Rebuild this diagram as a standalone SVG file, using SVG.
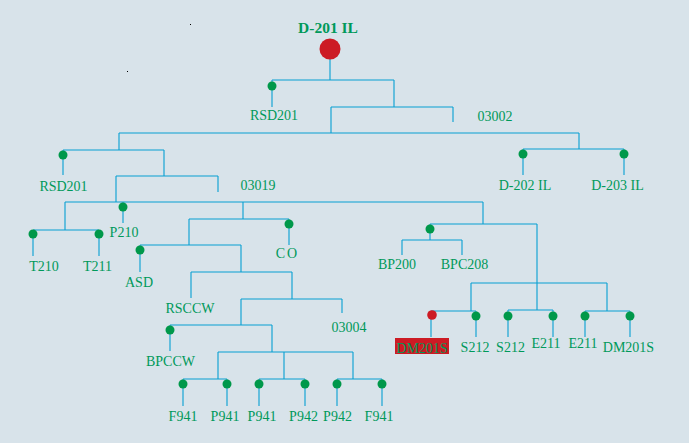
<svg xmlns="http://www.w3.org/2000/svg" width="689" height="443" viewBox="0 0 689 443">
<style>
.ln{fill:none;stroke:#07a0d2;stroke-width:1.1}
.dot{fill:#00984a}
.lb{font-family:"Liberation Serif",serif;font-size:14px;fill:#00995a;text-anchor:middle}
.title{font-family:"Liberation Serif",serif;font-size:15.5px;font-weight:bold;fill:#00995a;text-anchor:middle}
</style>
<rect width="689" height="443" fill="#d8e3ea"/>
<rect x="190" y="24" width="1" height="1" fill="#000"/>
<rect x="127" y="71" width="1" height="1" fill="#000"/>
<g id="connectors" class="ln">
<path d="M330 59V80M272 80H394M272 80V107M394 80V107M331 107H453M453 107V122M331 107V133"/>
<path d="M119 133H579M579 133V149M523 149H624M523 149V175M624 149V175"/>
<path d="M119 133V150M63 150H164M63 150V175M164 150V176M116 176H218M218 176V192M116 176V202"/>
<path d="M65 202H483M65 202V230M33 230H99M33 230V256M99 230V256M123 202V223"/>
<path d="M243 202V219M189 219H289M289 219V245M189 219V245M140 245H241M140 245V272M241 245V272"/>
<path d="M191 272H292M191 272V298M292 272V299M241 299H342M342 299V313M241 299V325"/>
<path d="M170 325H272M170 325V351M272 325V352M218 352H353M218 352V379M284 352V379M353 352V379"/>
<path d="M183 379H227M259 379H305M337 379H382M183 379V406M227 379V406M259 379V406M305 379V406M337 379V406M382 379V406"/>
<path d="M483 202V224M430 224H537M430 224V240M402 240H462M402 240V255M462 240V255"/>
<path d="M537 224V310M471 283H607M471 283V311M431 311H476M607 283V311M585 311H630M508 310H553"/>
<path d="M431 311V337M476 311V337M508 310V337M553 310V337M585 311V337M630 311V337"/>
</g>
<g id="root"><circle cx="330" cy="49" r="10.5" fill="#cc1b24"/><text class="title" x="328" y="33">D-201 IL</text></g>
<g id="rsd201a"><circle class="dot" cx="272" cy="86" r="4.5"/><text class="lb" x="274" y="120">RSD201</text></g>
<g id="n03002"><text class="lb" x="495" y="121">03002</text></g>
<g id="rsd201b"><circle class="dot" cx="63" cy="155" r="4.5"/><text class="lb" x="63.5" y="191">RSD201</text></g>
<g id="n03019"><text class="lb" x="258" y="190">03019</text></g>
<g id="d202"><circle class="dot" cx="523" cy="154" r="4.5"/><text class="lb" x="525" y="190">D-202 IL</text></g>
<g id="d203"><circle class="dot" cx="624" cy="154" r="4.5"/><text class="lb" x="617.5" y="190">D-203 IL</text></g>
<g id="t210"><circle class="dot" cx="33" cy="234" r="4.5"/><text class="lb" x="44" y="271">T210</text></g>
<g id="t211"><circle class="dot" cx="99" cy="234" r="4.5"/><text class="lb" x="97.5" y="271">T211</text></g>
<g id="p210"><circle class="dot" cx="123" cy="207" r="4.5"/><text class="lb" x="124" y="237">P210</text></g>
<g id="asd"><circle class="dot" cx="140" cy="250" r="4.5"/><text class="lb" x="139" y="287">ASD</text></g>
<g id="co"><circle class="dot" cx="289" cy="224" r="4.5"/><text class="lb" x="287.5" y="258" letter-spacing="2">CO</text></g>
<g id="rsccw"><text class="lb" x="190" y="313">RSCCW</text></g>
<g id="n03004"><text class="lb" x="349" y="332">03004</text></g>
<g id="bpccw"><circle class="dot" cx="170" cy="330" r="4.5"/><text class="lb" x="170.5" y="366">BPCCW</text></g>
<g id="f941a"><circle class="dot" cx="183" cy="384" r="4.5"/><text class="lb" x="183" y="421">F941</text></g>
<g id="p941a"><circle class="dot" cx="227" cy="384" r="4.5"/><text class="lb" x="225" y="421">P941</text></g>
<g id="p941b"><circle class="dot" cx="259" cy="384" r="4.5"/><text class="lb" x="262" y="421">P941</text></g>
<g id="p942a"><circle class="dot" cx="305" cy="384" r="4.5"/><text class="lb" x="303.5" y="421">P942</text></g>
<g id="p942b"><circle class="dot" cx="337" cy="384" r="4.5"/><text class="lb" x="337.5" y="421">P942</text></g>
<g id="f941b"><circle class="dot" cx="382" cy="384" r="4.5"/><text class="lb" x="379" y="421">F941</text></g>
<g id="bpgroup"><circle class="dot" cx="430" cy="229" r="4.5"/></g>
<g id="bp200"><text class="lb" x="397" y="269">BP200</text></g>
<g id="bpc208"><text class="lb" x="464.5" y="269">BPC208</text></g>
<g id="dm201sa"><circle cx="432" cy="315" r="4.8" fill="#cc1b24"/><rect x="395" y="338" width="54" height="16" fill="#cc1b24"/><text class="lb" x="422" y="353">DM201S</text></g>
<g id="s212a"><circle class="dot" cx="476" cy="316" r="4.5"/><text class="lb" x="475" y="352">S212</text></g>
<g id="s212b"><circle class="dot" cx="508" cy="316" r="4.5"/><text class="lb" x="510.5" y="352">S212</text></g>
<g id="e211a"><circle class="dot" cx="553" cy="316" r="4.5"/><text class="lb" x="546" y="348">E211</text></g>
<g id="e211b"><circle class="dot" cx="585" cy="316" r="4.5"/><text class="lb" x="583" y="348">E211</text></g>
<g id="dm201sb"><circle class="dot" cx="630" cy="316" r="4.5"/><text class="lb" x="628.5" y="352">DM201S</text></g>
</svg>
